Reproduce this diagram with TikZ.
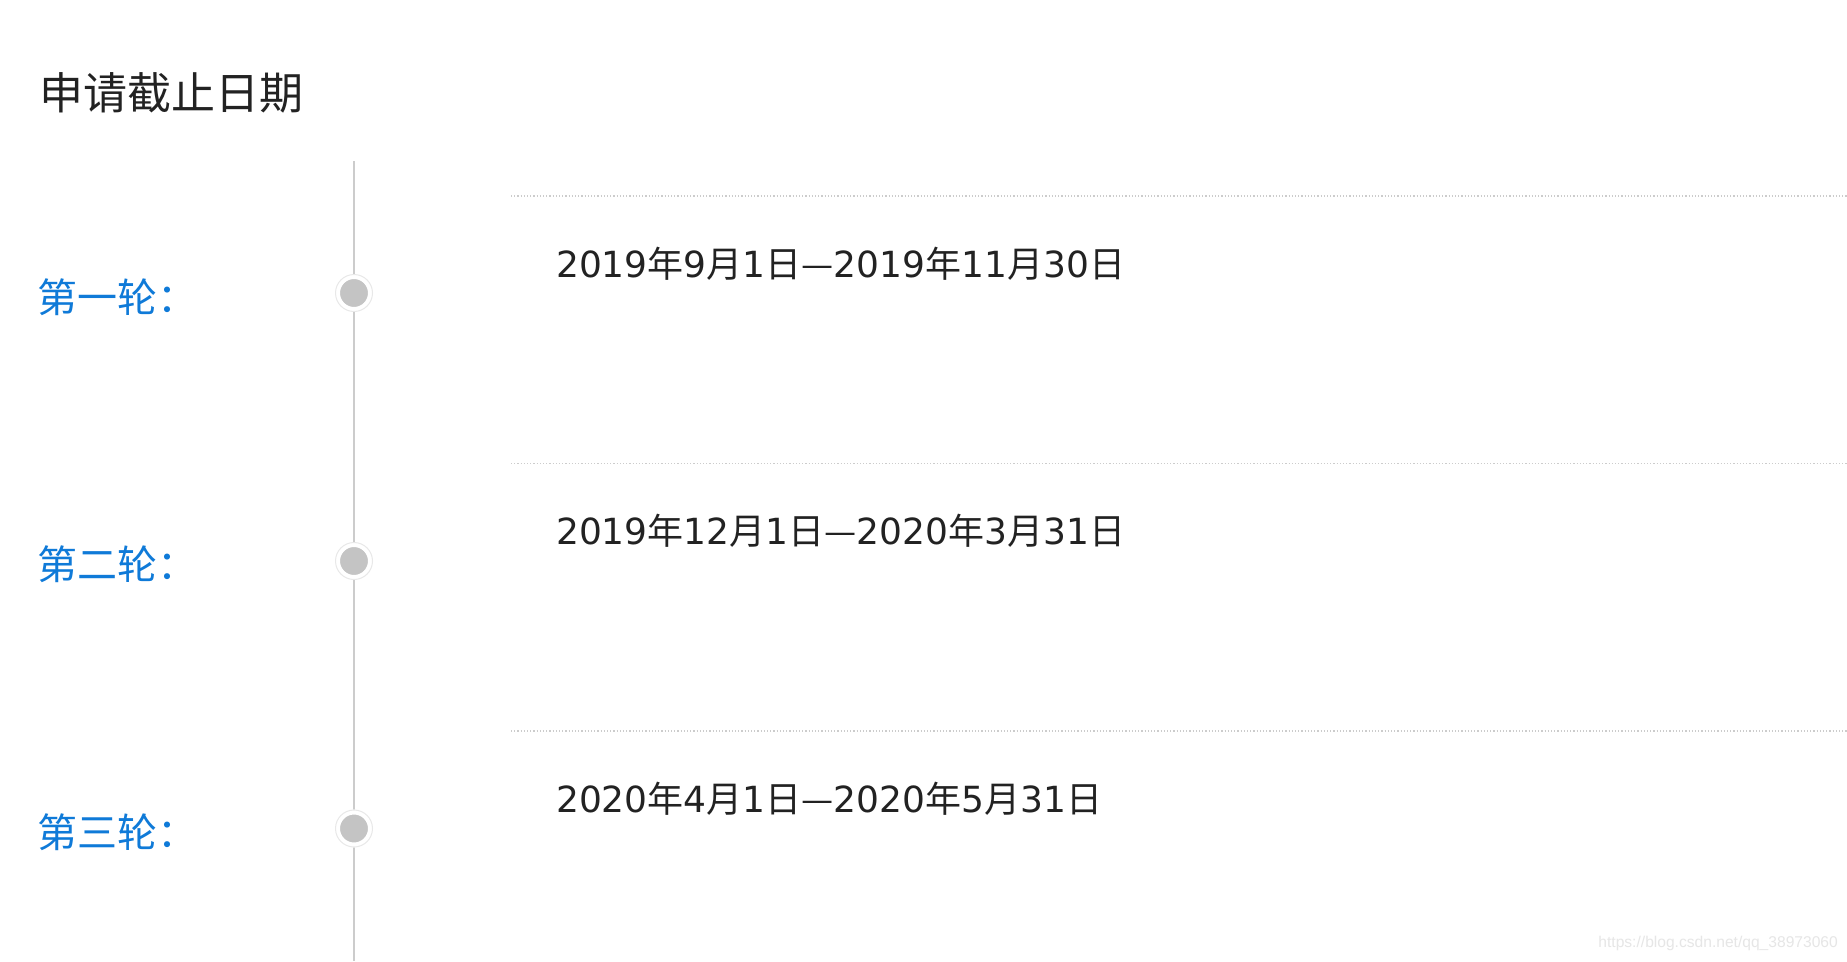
\documentclass[tikz,border=0pt]{standalone}
\usepackage{fontspec}
\setmainfont{DejaVu Sans}
\newfontfamily\cjk{Noto Sans CJK SC}
\newfontfamily\wmfont{Liberation Sans}
\newcommand\cj[1]{{\cjk #1}}
\definecolor{titlecol}{HTML}{222222}
\definecolor{bluecol}{HTML}{0F7AD8}
\definecolor{linecol}{HTML}{CCCCCC}
\definecolor{dotfill}{HTML}{C4C4C4}
\definecolor{ringcol}{HTML}{E8E8E8}
\definecolor{wmcol}{HTML}{E6E6E6}
\tikzset{
  titletxt/.style={anchor=base west, inner sep=0pt, text=titlecol, font=\cjk\fontsize{44}{50}\selectfont},
  roundlbl/.style={anchor=base west, inner sep=0pt, text=bluecol, font=\cjk\fontsize{40}{46}\selectfont},
  datetxt/.style={anchor=base west, inner sep=0pt, text=titlecol, font=\fontsize{36}{42}\selectfont},
  marker/.style={circle, inner sep=0pt, minimum size=33pt, fill=dotfill, draw=white, line width=5pt},
  axisline/.style={draw=linecol, line width=2pt},
  sepline/.style={draw=linecol, line width=1.2pt, dash pattern=on 1.2pt off 2pt},
  ringline/.style={draw=ringcol, line width=1pt},
  wmtxt/.style={anchor=base east, inner sep=0pt, text=wmcol, font=\wmfont\fontsize{15.6}{18}\selectfont}
}
\begin{document}
\begin{tikzpicture}[x=1pt,y=-1pt]
\useasboundingbox[fill=white] (0,0) rectangle (1847,961);

\node[titletxt] (title) at (39,109) {申请截止日期};

% timeline axis
\coordinate (axtop) at (354,161);
\coordinate (axbot) at (354,961);
\draw[axisline] (axtop) -- (axbot);

% separators
\coordinate (s1a) at (511,196);   \coordinate (s1b) at (1847,196);
\coordinate (s2a) at (511,463.5); \coordinate (s2b) at (1847,463.5);
\coordinate (s3a) at (511,731);   \coordinate (s3b) at (1847,731);
\draw[sepline] (s1a) -- (s1b);
\draw[sepline] (s2a) -- (s2b);
\draw[sepline] (s3a) -- (s3b);

% markers
\node[marker] (m1) at (354,293) {};
\node[marker] (m2) at (354,561) {};
\node[marker] (m3) at (354,828.5) {};
\draw[ringline] (m1.center) circle[radius=18.5];
\draw[ringline] (m2.center) circle[radius=18.5];
\draw[ringline] (m3.center) circle[radius=18.5];

% round labels
\node[roundlbl] (r1) at (37,312) {第一轮：};
\node[roundlbl] (r2) at (37,579.5) {第二轮：};
\node[roundlbl] (r3) at (37,847) {第三轮：};

% dates
\node[datetxt] (d1) at (556,277) {2019\cj{年}9\cj{月}1\cj{日—}2019\cj{年}11\cj{月}30\cj{日}};
\node[datetxt] (d2) at (556,544.5) {2019\cj{年}12\cj{月}1\cj{日—}2020\cj{年}3\cj{月}31\cj{日}};
\node[datetxt] (d3) at (556,812) {2020\cj{年}4\cj{月}1\cj{日—}2020\cj{年}5\cj{月}31\cj{日}};

% watermark
\node[wmtxt] (wm) at (1838,947) {https://blog.csdn.net/qq\_38973060};
\end{tikzpicture}
\end{document}
